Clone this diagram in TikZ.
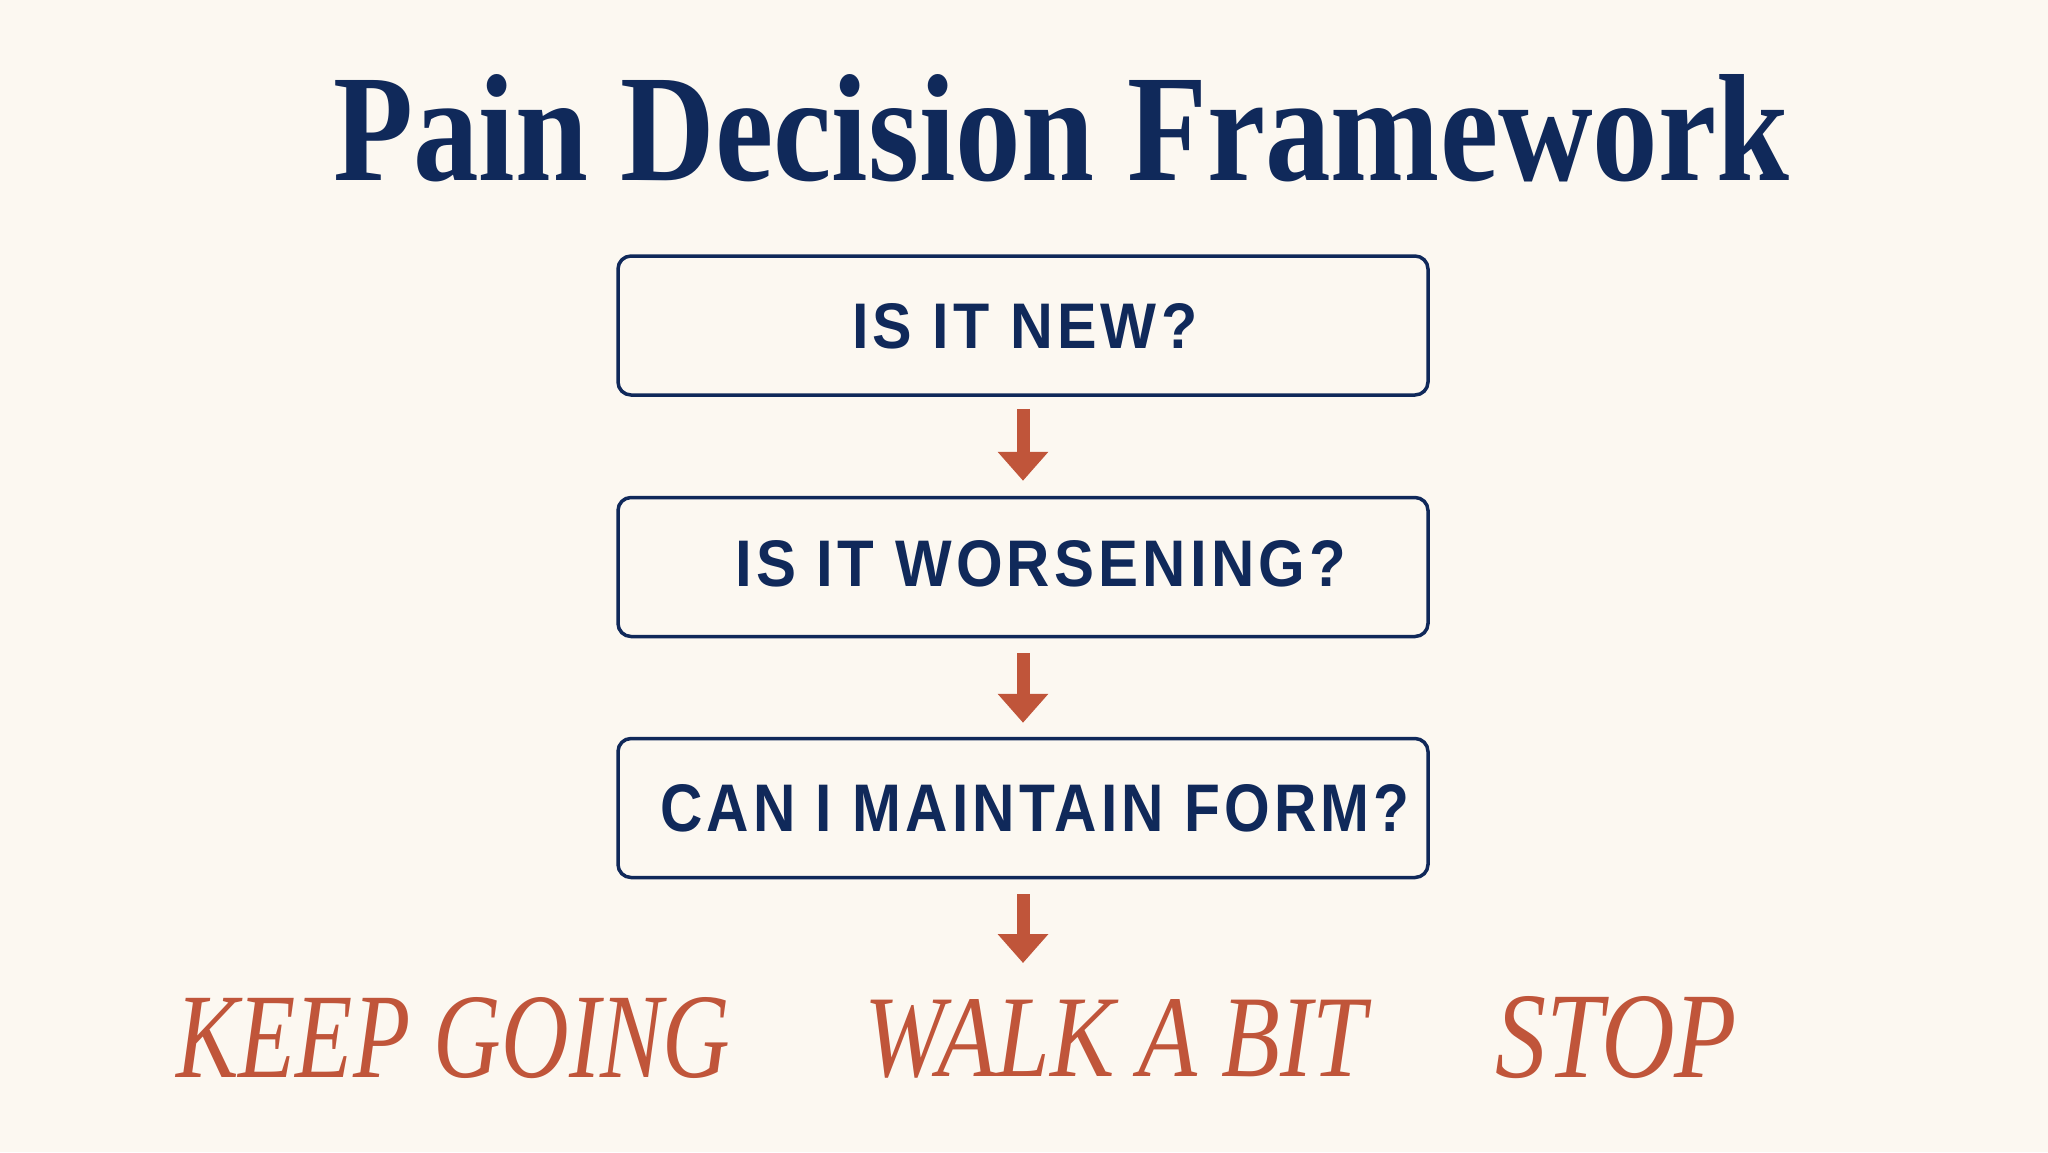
\documentclass[tikz,border=0pt]{standalone}
\usepackage{fontspec}
\usepackage{graphicx}
\usetikzlibrary{arrows.meta}
\newfontfamily\ttlfont{Liberation Serif}
\newfontfamily\qfont{Liberation Sans}[LetterSpace=7]
\definecolor{navy}{HTML}{10295A}
\definecolor{rust}{HTML}{C0553A}
\definecolor{cream}{HTML}{FCF8F1}
\tikzset{
  qbox/.style={draw=navy, line width=3.5pt, rounded corners=13pt, minimum width=810pt, minimum height=139pt, inner sep=0pt},
  qtext/.style={anchor=base west, inner sep=0pt, text=navy},
  outtext/.style={anchor=base west, inner sep=0pt, text=rust},
  flowarrow/.style={draw=rust, line width=13pt, -{Triangle[width=49pt,length=29pt]}},
}
\begin{document}
\begin{tikzpicture}[x=1pt,y=-1pt]
\fill[cream] (0,0) rectangle (2048,1152);
\useasboundingbox (0,0) rectangle (2048,1152);
\node[anchor=base west, inner sep=0pt, text=navy] (title) at (333,180) {\resizebox{1455pt}{106pt}{\ttlfont\bfseries Pain Decision Framework}};
\node[qbox] (b1) at (1023,325.5) {};
\node[qbox] (b2) at (1023,567) {};
\node[qbox] (b3) at (1023,808) {};
\node[qtext] (t1) at (852,348) {\resizebox{345pt}{45pt}{\qfont\bfseries IS IT NEW?}};
\node[qtext] (t2) at (735,586) {\resizebox{611pt}{46pt}{\qfont\bfseries IS IT WORSENING?}};
\node[qtext] (t3) at (660,831) {\resizebox{749pt}{47pt}{\qfont\bfseries CAN I MAINTAIN FORM?}};
\coordinate (end3) at (1023,963);
\draw[flowarrow] ([yshift=-12pt]b1.south) -- ([yshift=15pt]b2.north);
\draw[flowarrow] ([yshift=-15pt]b2.south) -- ([yshift=14pt]b3.north);
\draw[flowarrow] ([yshift=-15pt]b3.south) -- (end3);
\node[outtext] (keep) at (176,1077) {\resizebox{554pt}{80pt}{\ttlfont\itshape KEEP GOING}};
\node[outtext] (walk) at (864,1076) {\resizebox{502pt}{77pt}{\ttlfont\itshape WALK A BIT}};
\node[outtext] (stop) at (1495,1077) {\resizebox{242pt}{81pt}{\ttlfont\itshape STOP}};
\end{tikzpicture}
\end{document}
